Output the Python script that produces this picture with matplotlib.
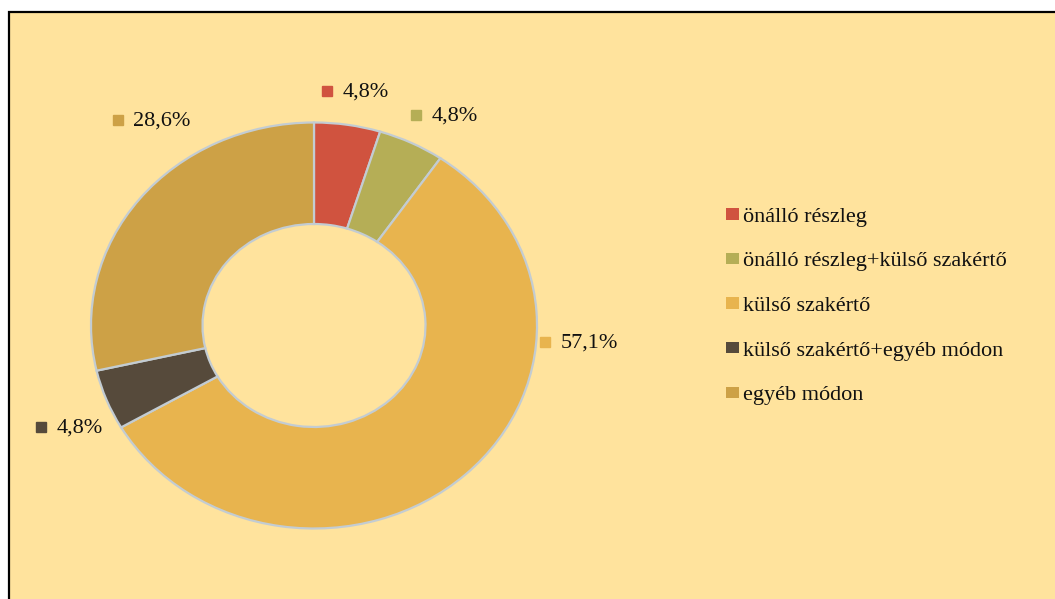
import matplotlib
matplotlib.use("Agg")
import matplotlib.pyplot as plt
from matplotlib.patches import Rectangle

categories = ["önálló részleg", "önálló részleg+külső szakértő", "külső szakértő",
              "külső szakértő+egyéb módon", "egyéb módon"]
values = [4.8, 4.8, 57.1, 4.8, 28.6]
value_labels = ["4,8%", "4,8%", "57,1%", "4,8%", "28,6%"]
colors = ["#D0533F", "#B5AE56", "#E8B44E", "#564A3B", "#CDA146"]

plt.rcParams['font.family'] = ['Liberation Serif', 'DejaVu Serif']

W, H = 1055, 599
fig = plt.figure(figsize=(W / 100, H / 100), dpi=100)
fig.patch.set_facecolor("white")

bg = Rectangle((9 / W, -0.01), 1.05, 1 - 12 / H + 0.01, transform=fig.transFigure,
               facecolor="#FFE39D", edgecolor="black", linewidth=1.6, zorder=0)
fig.add_artist(bg)

cx, cy, RX, RY = 314, 325.5, 223, 203
ax = fig.add_axes([(cx - RX) / W, (H - cy - RY) / H, 2 * RX / W, 2 * RY / H])
ax.set_facecolor("none")
wedges, _ = ax.pie(values, colors=colors, startangle=90, counterclock=False, radius=1,
                   wedgeprops=dict(width=0.5, edgecolor="#C3CCD2", linewidth=1.6))
ax.set_xlim(-1.0, 1.0)
ax.set_ylim(-1.0, 1.0)
ax.set_aspect("auto")

# overlay axes in pixel coords for data labels
ov = fig.add_axes([0, 0, 1, 1])
ov.set_xlim(0, W)
ov.set_ylim(H, 0)
ov.axis("off")
ov.set_facecolor("none")
label_pos = [(327, 91), (416, 115), (544.5, 342), (40.5, 427), (117.5, 120)]
for (x, y), lab, c in zip(label_pos, value_labels, colors):
    ov.plot([x], [y], marker="s", markersize=7.3, color=c, linestyle="none")
    ov.text(x + 16, y + 1, lab, fontsize=16, va="center", ha="left", color="#111111")

leg = fig.legend(wedges, categories, loc="center left",
                 bbox_to_anchor=(726 / W, 1 - 306.5 / H), frameon=False,
                 fontsize=16, handlelength=0.58, handleheight=0.4,
                 handletextpad=0.2, labelspacing=1.15, borderpad=0, borderaxespad=0)
for t in leg.get_texts():
    t.set_color("#111111")
for h in leg.legend_handles:
    h.set_edgecolor("none")

fig.savefig("out.png", dpi=100, facecolor="white")
